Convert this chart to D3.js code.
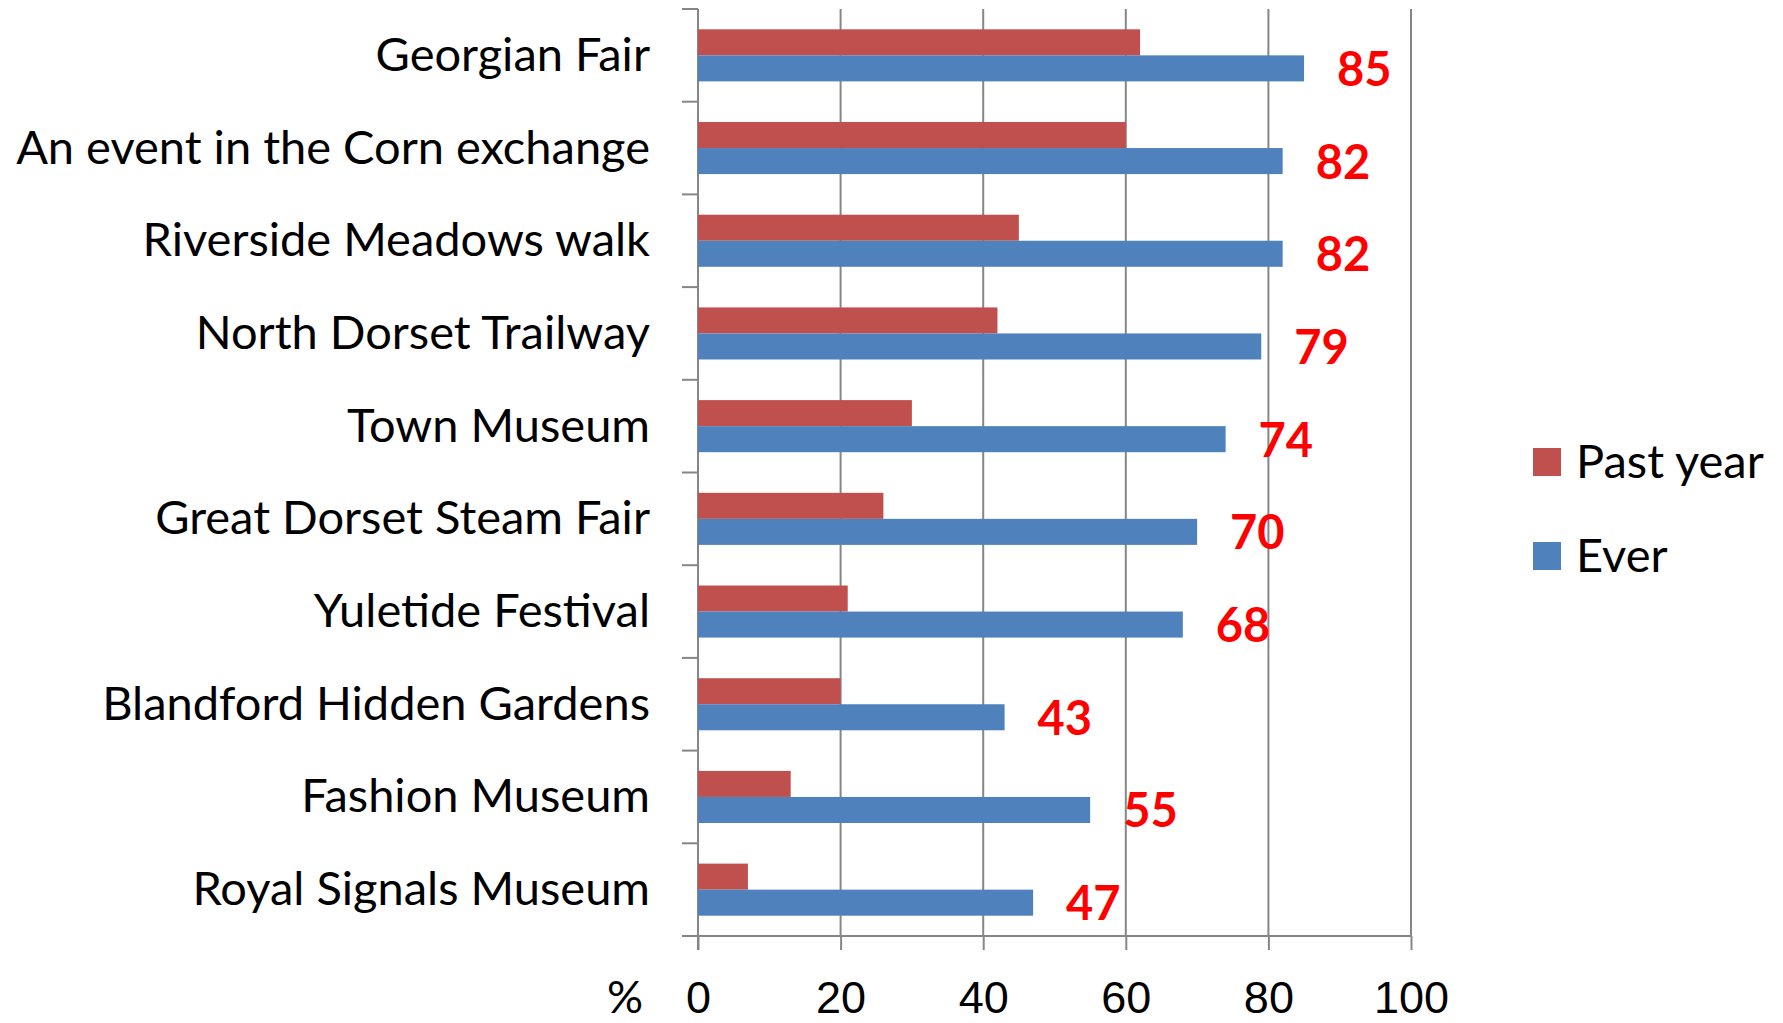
<!DOCTYPE html>
<html>
<head>
<meta charset="utf-8">
<script src="https://cdn.jsdelivr.net/npm/d3@7"></script>
<style>
  body { margin: 0; background: #fff; }
  svg { display: block; font-family: Lato, "Open Sans", sans-serif; }
</style>
</head>
<body>
<div id="chart"></div>
<script>
const categories = [
  'Georgian Fair',
  'An event in the Corn exchange',
  'Riverside Meadows walk',
  'North Dorset Trailway',
  'Town Museum',
  'Great Dorset Steam Fair',
  'Yuletide Festival',
  'Blandford Hidden Gardens',
  'Fashion Museum',
  'Royal Signals Museum'
];
const seriesNames = ['Past year', 'Ever'];
const pastYear = [62, 60, 45, 42, 30, 26, 21, 20, 13, 7];
const ever = [85, 82, 82, 79, 74, 70, 68, 43, 55, 47];
const xTicks = [0, 20, 40, 60, 80, 100];

const width = 1783, height = 1023;
const colors = { 'Past year': '#C0504D', 'Ever': '#4F81BD' };
const gridColor = '#868686';
const catFont = 47;
const tickFont = 45;

const svg = d3.select('#chart').append('svg')
  .attr('width', width)
  .attr('height', height);

const x = d3.scaleLinear().domain([0, 100]).range([698, 1411]);
const y = d3.scaleBand().domain(categories).range([9, 936]).paddingInner(0).paddingOuter(0);
const ySub = d3.scaleBand().domain(seriesNames).range([0, y.bandwidth()]).paddingInner(0).paddingOuter(0.78);

// gridlines
svg.append('g')
  .selectAll('line')
  .data(xTicks.slice(1))
  .enter().append('line')
  .attr('x1', d => x(d)).attr('x2', d => x(d))
  .attr('y1', 9).attr('y2', 936)
  .attr('stroke', gridColor).attr('stroke-width', 2);

// x axis
const xAxis = d3.axisBottom(x).tickValues(xTicks).tickSize(14).tickFormat(d3.format('d'));
const gx = svg.append('g')
  .attr('transform', `translate(0,936)`)
  .call(xAxis);
gx.select('.domain').remove();
gx.selectAll('.tick line').attr('stroke', gridColor).attr('stroke-width', 2);
gx.selectAll('.tick text')
  .attr('fill', '#000')
  .style('font-size', tickFont + 'px')
  .attr('dy', null)
  .attr('y', 77);
svg.append('line')
  .attr('x1', x(0) - 16).attr('x2', x(100))
  .attr('y1', 936).attr('y2', 936)
  .attr('stroke', gridColor).attr('stroke-width', 2);

svg.append('text')
  .attr('x', 625).attr('y', 1013)
  .attr('text-anchor', 'middle')
  .style('font-size', tickFont + 'px')
  .text('%');

// y axis line + category separator ticks
svg.append('line')
  .attr('x1', x(0)).attr('x2', x(0))
  .attr('y1', 9).attr('y2', 950)
  .attr('stroke', gridColor).attr('stroke-width', 2);
const boundaries = categories.map(c => y(c)).concat([y(categories[categories.length - 1]) + y.step()]);
svg.append('g')
  .selectAll('line')
  .data(boundaries)
  .enter().append('line')
  .attr('x1', x(0) - 16).attr('x2', x(0))
  .attr('y1', d => d).attr('y2', d => d)
  .attr('stroke', gridColor).attr('stroke-width', 2);

// category labels
svg.append('g')
  .selectAll('text')
  .data(categories)
  .enter().append('text')
  .attr('x', 650)
  .attr('y', d => y(d) + y.bandwidth() / 2 - 1)
  .attr('dy', '0.35em')
  .attr('text-anchor', 'end')
  .attr('fill', '#000')
  .style('font-size', catFont + 'px')
  .text(d => d);

// bars
const rows = categories.map((c, i) => ({ cat: c, 'Past year': pastYear[i], 'Ever': ever[i] }));
const groups = svg.append('g').selectAll('g')
  .data(rows)
  .enter().append('g')
  .attr('transform', d => `translate(0,${y(d.cat)})`);

groups.selectAll('rect')
  .data(d => seriesNames.map(s => ({ s, v: d[s] })))
  .enter().append('rect')
  .attr('x', x(0))
  .attr('y', d => ySub(d.s))
  .attr('width', d => x(d.v) - x(0))
  .attr('height', ySub.bandwidth())
  .attr('fill', d => colors[d.s]);

// value labels for Ever
svg.append('g')
  .selectAll('text')
  .data(rows)
  .enter().append('text')
  .attr('x', d => x(d.Ever) + 33)
  .attr('y', d => y(d.cat) + ySub('Ever') + ySub.bandwidth() / 2 + 1)
  .attr('dy', '0.35em')
  .attr('fill', '#FF0000')
  .style('font-size', '47px')
  .style('font-weight', 'bold')
  .text(d => d.Ever);

// legend
const legend = svg.append('g').selectAll('g')
  .data(seriesNames)
  .enter().append('g')
  .attr('transform', (d, i) => `translate(1533,${448 + i * 94})`);
legend.append('rect')
  .attr('width', 28).attr('height', 28)
  .attr('fill', d => colors[d]);
legend.append('text')
  .attr('x', 43).attr('y', 14)
  .attr('dy', '0.35em')
  .attr('fill', '#000')
  .style('font-size', catFont + 'px')
  .text(d => d);
</script>
</body>
</html>
